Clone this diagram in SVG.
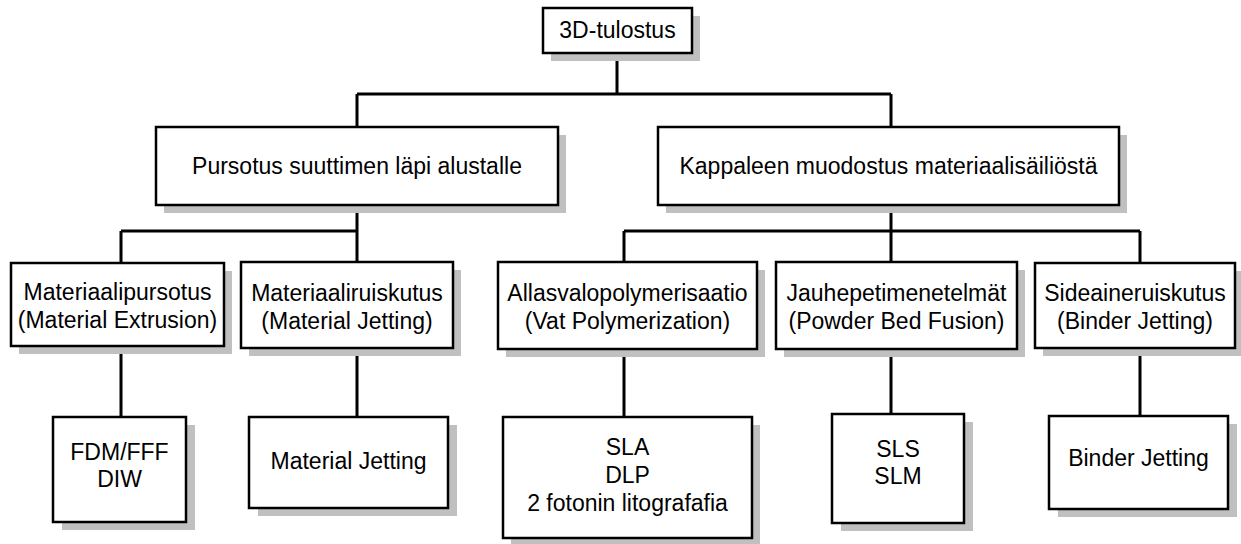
<svg xmlns="http://www.w3.org/2000/svg" width="1241" height="544" viewBox="0 0 1241 544">
<style>
.sh{fill:#c0c0c0;stroke:none}
.bx{fill:#fff;stroke:#000;stroke-width:2.5}
.t{font-family:"Liberation Sans",Arial,sans-serif;font-size:23px;fill:#000;text-anchor:middle}
.c{fill:none;stroke:#000;stroke-width:3}
</style>
<rect width="1241" height="544" fill="#fff"/>
<g id="connectors">
<path class="c" d="M617,53V94M357,94H891M357,94V127M891,94V127"/>
<path class="c" d="M357,205V262M121,231H357M121,231V263"/>
<path class="c" d="M891,205V262M624,231H1140M624,231V262M1140,231V263"/>
<path class="c" d="M121,346V417M357,348V417M624,349V417M891,349V414M1140,348V416"/>
</g>
<g id="n-root">
<rect class="sh" x="551" y="16" width="149" height="45"/>
<rect class="bx" x="543" y="8" width="149" height="45"/>
<text class="t" x="617.5" y="38">3D-tulostus</text>
</g>
<g id="n-pursotus">
<rect class="sh" x="164" y="135" width="402" height="78"/>
<rect class="bx" x="156" y="127" width="402" height="78"/>
<text class="t" x="357" y="174">Pursotus suuttimen läpi alustalle</text>
</g>
<g id="n-kappaleen">
<rect class="sh" x="666" y="135" width="461" height="78"/>
<rect class="bx" x="658" y="127" width="461" height="78"/>
<text class="t" x="888.5" y="174">Kappaleen muodostus materiaalisäiliöstä</text>
</g>
<g id="n-matext">
<rect class="sh" x="19" y="271" width="213" height="83"/>
<rect class="bx" x="11" y="263" width="213" height="83"/>
<text class="t" x="117.5" y="300">Materiaalipursotus</text>
<text class="t" x="117.5" y="328">(Material Extrusion)</text>
</g>
<g id="n-matjet">
<rect class="sh" x="249" y="270" width="212" height="86"/>
<rect class="bx" x="241" y="262" width="212" height="86"/>
<text class="t" x="347" y="301">Materiaaliruiskutus</text>
<text class="t" x="347" y="329">(Material Jetting)</text>
</g>
<g id="n-vat">
<rect class="sh" x="506" y="270" width="259" height="87"/>
<rect class="bx" x="498" y="262" width="259" height="87"/>
<text class="t" x="627.5" y="301">Allasvalopolymerisaatio</text>
<text class="t" x="627.5" y="329">(Vat Polymerization)</text>
</g>
<g id="n-pbf">
<rect class="sh" x="784" y="270" width="241" height="87"/>
<rect class="bx" x="776" y="262" width="241" height="87"/>
<text class="t" x="896.5" y="301">Jauhepetimenetelmät</text>
<text class="t" x="896.5" y="329">(Powder Bed Fusion)</text>
</g>
<g id="n-binder">
<rect class="sh" x="1043" y="271" width="200" height="85"/>
<rect class="bx" x="1035" y="263" width="200" height="85"/>
<text class="t" x="1135" y="301">Sideaineruiskutus</text>
<text class="t" x="1135" y="329">(Binder Jetting)</text>
</g>
<g id="n-fdm">
<rect class="sh" x="62" y="425" width="133" height="105"/>
<rect class="bx" x="53" y="417" width="133" height="105"/>
<text class="t" x="119.5" y="460">FDM/FFF</text>
<text class="t" x="119.5" y="487">DIW</text>
</g>
<g id="n-mj">
<rect class="sh" x="258" y="425" width="199" height="91"/>
<rect class="bx" x="249" y="417" width="199" height="91"/>
<text class="t" x="348.5" y="469">Material Jetting</text>
</g>
<g id="n-sla">
<rect class="sh" x="511" y="425" width="249" height="121"/>
<rect class="bx" x="503" y="417" width="249" height="121"/>
<text class="t" x="627.5" y="455">SLA</text>
<text class="t" x="627.5" y="483">DLP</text>
<text class="t" x="627.5" y="511">2 fotonin litografafia</text>
</g>
<g id="n-sls">
<rect class="sh" x="841" y="422" width="132" height="109"/>
<rect class="bx" x="832" y="414" width="132" height="109"/>
<text class="t" x="898" y="457">SLS</text>
<text class="t" x="898" y="484">SLM</text>
</g>
<g id="n-bj">
<rect class="sh" x="1058" y="424" width="179" height="93"/>
<rect class="bx" x="1049" y="416" width="179" height="93"/>
<text class="t" x="1138.5" y="466">Binder Jetting</text>
</g>
</svg>
